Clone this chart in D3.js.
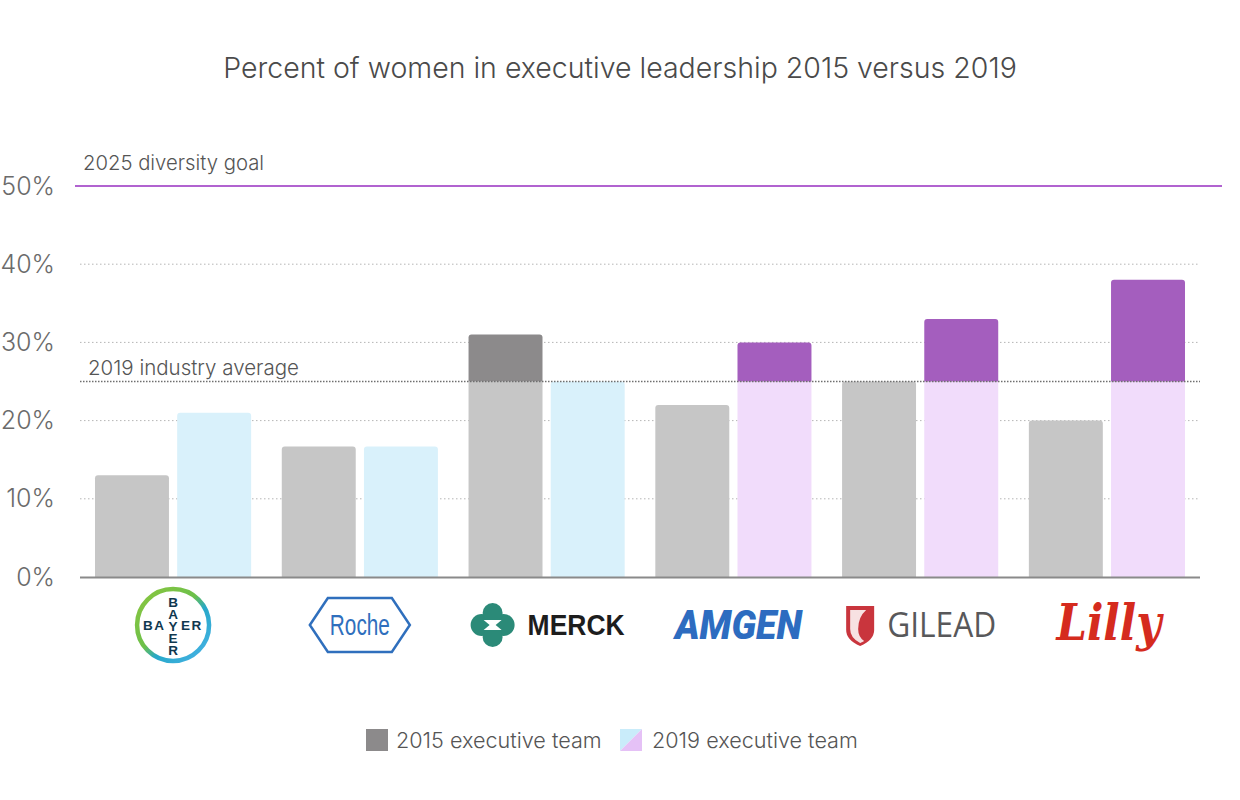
<!DOCTYPE html>
<html>
<head>
<meta charset="utf-8">
<script src="https://cdn.jsdelivr.net/npm/d3@7"></script>
<style>
  html, body { margin: 0; padding: 0; background: #fff; }
  svg { display: block; font-family: Inter, "Noto Sans", sans-serif; }
</style>
</head>
<body>
<svg id="chart" width="1240" height="800"></svg>
<script>
// ---------- data ----------
const companies = ["Bayer", "Roche", "Merck", "Amgen", "Gilead", "Lilly"];
const years = ["2015", "2019"];
const values2015 = [13, 16.7, 31, 22, 25, 20];
const values2019 = [21, 16.7, 25, 30, 33, 38];
const yTicks = [0, 10, 20, 30, 40, 50];
const industryAverage = 25;
const diversityGoal = 50;
const legendLabels = ["2015 executive team", "2019 executive team"];
const titleText = "Percent of women in executive leadership 2015 versus 2019";

// ---------- setup ----------
const svg = d3.select("#chart");

const x = d3.scaleBand().domain(companies).range([95, 1185]).paddingInner(0.164).paddingOuter(0);
const xInner = d3.scaleBand().domain(years).range([0, x.bandwidth()]).paddingInner(0.1);
const y = d3.scaleLinear().domain([0, 50]).range([577, 186]);

const colors = {
  gray: "#c6c6c6", darkGray: "#8c8a8b",
  blue: "#d9f1fb", lightPurple: "#f1dcfb", purple: "#a45ebe"
};

// title
svg.append("text").attr("x", 620).attr("y", 78).attr("text-anchor", "middle")
  .attr("font-size", 28.5).attr("font-weight", 300).attr("fill", "#4a4a4a").text(titleText);

// gridlines (behind bars)
svg.append("g").selectAll("line").data(yTicks.filter(d => d > 0 && d < 50)).join("line")
  .attr("x1", 80).attr("x2", 1200)
  .attr("y1", d => y(d)).attr("y2", d => y(d))
  .attr("stroke", "#b5b5b5").attr("stroke-width", 1).attr("stroke-dasharray", "1.5,2.5");

// y axis labels
const yAxis = d3.axisLeft(y).tickValues(yTicks).tickFormat(d => d + "%").tickSize(0).tickPadding(0);
const gy = svg.append("g").attr("transform", "translate(55,0)").call(yAxis);
gy.select(".domain").remove();
gy.selectAll("text").attr("font-size", 25).attr("font-weight", 300).attr("fill", "#6b6b6b")
  .attr("font-family", "Inter, 'Noto Sans', sans-serif");

// bars
function topRoundedRect(x0, y0, w, h, r) {
  r = Math.min(r, h);
  return `M${x0},${y0 + h}V${y0 + r}Q${x0},${y0} ${x0 + r},${y0}H${x0 + w - r}Q${x0 + w},${y0} ${x0 + w},${y0 + r}V${y0 + h}Z`;
}

const barData = [];
companies.forEach((c, i) => {
  [values2015[i], values2019[i]].forEach((v, j) => {
    const yr = years[j];
    let low, high;
    if (yr === "2015") { low = colors.gray; high = colors.darkGray; }
    else if (v > industryAverage) { low = colors.lightPurple; high = colors.purple; }
    else { low = colors.blue; high = colors.blue; }
    const bx = x(c) + xInner(yr), bw = xInner.bandwidth();
    const lowTop = Math.min(v, industryAverage);
    barData.push({ bx, bw, y0: 0, y1: lowTop, color: low, top: v <= industryAverage });
    if (v > industryAverage) barData.push({ bx, bw, y0: industryAverage, y1: v, color: high, top: true });
  });
});

svg.append("g").selectAll("path").data(barData).join("path")
  .attr("d", d => d.top
    ? topRoundedRect(d.bx, y(d.y1), d.bw, y(d.y0) - y(d.y1), 3)
    : `M${d.bx},${y(d.y0)}V${y(d.y1)}H${d.bx + d.bw}V${y(d.y0)}Z`)
  .attr("fill", d => d.color);

// baseline
svg.append("line").attr("x1", 80).attr("x2", 1200).attr("y1", y(0) + 0.5).attr("y2", y(0) + 0.5)
  .attr("stroke", "#8a8a8a").attr("stroke-width", 2);

// industry average line
svg.append("line").attr("x1", 80).attr("x2", 1200).attr("y1", y(industryAverage)).attr("y2", y(industryAverage))
  .attr("stroke", "#6f6f6f").attr("stroke-width", 1.6).attr("stroke-dasharray", "1.5,1.5");
svg.append("text").attr("x", 88).attr("y", y(industryAverage) - 7)
  .attr("font-size", 20.5).attr("font-weight", 300).attr("fill", "#555").text("2019 industry average");

// goal line
svg.append("line").attr("x1", 75).attr("x2", 1222).attr("y1", y(diversityGoal)).attr("y2", y(diversityGoal))
  .attr("stroke", "#b163d0").attr("stroke-width", 1.8);
svg.append("text").attr("x", 83).attr("y", y(diversityGoal) - 16)
  .attr("font-size", 20.3).attr("font-weight", 300).attr("fill", "#555").text("2025 diversity goal");

// ---------- logos as category labels ----------
const defs = svg.append("defs");
const grad = defs.append("linearGradient").attr("id", "bayerGrad")
  .attr("x1", "0").attr("y1", "0").attr("x2", "1").attr("y2", "1");
grad.append("stop").attr("offset", "0%").attr("stop-color", "#8cc63f");
grad.append("stop").attr("offset", "45%").attr("stop-color", "#6cc04a");
grad.append("stop").attr("offset", "60%").attr("stop-color", "#27a8c9");
grad.append("stop").attr("offset", "100%").attr("stop-color", "#4ab3e8");

const logoY = 625;
const bayerFont = "'Liberation Sans', Arial, sans-serif";
const logos = {
  Bayer(g) {
    g.append("circle").attr("r", 36).attr("fill", "none").attr("stroke", "url(#bayerGrad)").attr("stroke-width", 4.5);
    const style = sel => sel.attr("font-size", 13.5).attr("font-weight", 700)
      .attr("font-family", bayerFont).attr("fill", "#10384f");
    // vertical word (one text element, upright letters)
    style(g.append("text").attr("x", 0).attr("y", 0).attr("text-anchor", "middle")
      .style("writing-mode", "vertical-rl").style("text-orientation", "upright")
      .attr("letter-spacing", -3).text("BAYER"));
    // horizontal arms that share the central Y
    style(g.append("text").attr("x", -7.5).attr("y", 0).attr("dy", "0.36em").attr("text-anchor", "end")
      .attr("letter-spacing", 1.5).text("BA"));
    style(g.append("text").attr("x", 8).attr("y", 0).attr("dy", "0.36em").attr("text-anchor", "start")
      .attr("letter-spacing", 1.5).text("ER"));
  },
  Roche(g) {
    g.append("polygon").attr("points", "-50,0 -32,-27 32,-27 50,0 32,27 -32,27")
      .attr("fill", "none").attr("stroke", "#2f6fbd").attr("stroke-width", 2.5);
    g.append("text").attr("text-anchor", "middle").attr("dy", "0.36em").attr("font-size", 29)
      .attr("font-family", "'Liberation Sans Narrow', 'Liberation Sans', sans-serif")
      .attr("fill", "#2f6fbd").attr("textLength", 60).attr("lengthAdjust", "spacingAndGlyphs").text("Roche");
  },
  Merck(g) {
    const ic = g.append("g").attr("transform", "translate(-54,0)");
    ic.append("circle").attr("cx", -11).attr("cy", 0).attr("r", 11).attr("fill", "#2b8a78");
    ic.append("circle").attr("cx", 11).attr("cy", 0).attr("r", 11).attr("fill", "#2b8a78");
    ic.append("circle").attr("cx", 0).attr("cy", -12).attr("r", 10).attr("fill", "#2b8a78");
    ic.append("circle").attr("cx", 0).attr("cy", 12).attr("r", 10).attr("fill", "#2b8a78");
    ic.append("path").attr("d", "M-9,-5 L9,-5 L3,0 L9,5 L-9,5 L-3,0 Z").attr("fill", "#fff");
    g.append("text").attr("x", -19).attr("dy", "0.36em").attr("font-size", 29).attr("font-weight", 700)
      .attr("font-family", "'Liberation Sans', Arial, sans-serif").attr("fill", "#1d1d1d")
      .attr("textLength", 97).attr("lengthAdjust", "spacingAndGlyphs").text("MERCK");
  },
  Amgen(g) {
    g.append("text").attr("text-anchor", "middle").attr("x", 5).attr("dy", "0.36em").attr("font-size", 40).attr("font-weight", 900)
      .attr("font-style", "italic").attr("font-family", "Roboto, 'Liberation Sans', sans-serif").attr("fill", "#2d6cc0")
      .attr("textLength", 127).attr("lengthAdjust", "spacingAndGlyphs").text("AMGEN");
  },
  Gilead(g) {
    const ic = g.append("g").attr("transform", "translate(-60,0)");
    ic.append("path").attr("d", "M-14,-19 L14,-19 L14,5 Q14,15 0,21 Q-14,15 -14,5 Z").attr("fill", "#c9353d");
    ic.append("path").attr("d", "M-10,-15 L6,-15 Q-2,-8 -2,4 Q-2,12 4,16 Q0,18 0,18 Q-10,13 -10,4 Z").attr("fill", "#fff").attr("opacity", 0.85);
    g.append("text").attr("x", -33).attr("dy", "0.36em").attr("font-size", 34).attr("font-weight", 400)
      .attr("font-family", "'Open Sans', 'Noto Sans', sans-serif").attr("fill", "#58585a")
      .attr("textLength", 109).attr("lengthAdjust", "spacingAndGlyphs").text("GILEAD");
  },
  Lilly(g) {
    g.append("text").attr("text-anchor", "middle").attr("x", 2).attr("dy", "0.3em").attr("font-size", 50).attr("font-weight", 700)
      .attr("font-style", "italic").attr("font-family", "'DejaVu Serif', serif").attr("fill", "#d52b1e")
      .attr("textLength", 105).attr("lengthAdjust", "spacingAndGlyphs").text("Lilly");
  }
};

const logoG = svg.append("g");
companies.forEach(c => {
  const g = logoG.append("g").attr("transform", `translate(${x(c) + x.bandwidth() / 2},${logoY})`);
  logos[c](g);
});

// ---------- legend ----------
const lg = svg.append("g").attr("transform", "translate(366,729)");
lg.append("rect").attr("width", 22).attr("height", 22).attr("fill", colors.darkGray);
lg.append("text").attr("x", 30).attr("y", 11).attr("dy", "0.36em").attr("font-size", 21.6).attr("font-weight", 300)
  .attr("fill", "#555").text(legendLabels[0]);
const lg2 = lg.append("g").attr("transform", "translate(254,0)");
lg2.append("polygon").attr("points", "0,0 22,0 0,22").attr("fill", "#c9ecfa");
lg2.append("polygon").attr("points", "22,0 22,22 0,22").attr("fill", "#e5c1f6");
lg2.append("text").attr("x", 32).attr("y", 11).attr("dy", "0.36em").attr("font-size", 21.6).attr("font-weight", 300)
  .attr("fill", "#555").text(legendLabels[1]);
</script>
</body>
</html>
